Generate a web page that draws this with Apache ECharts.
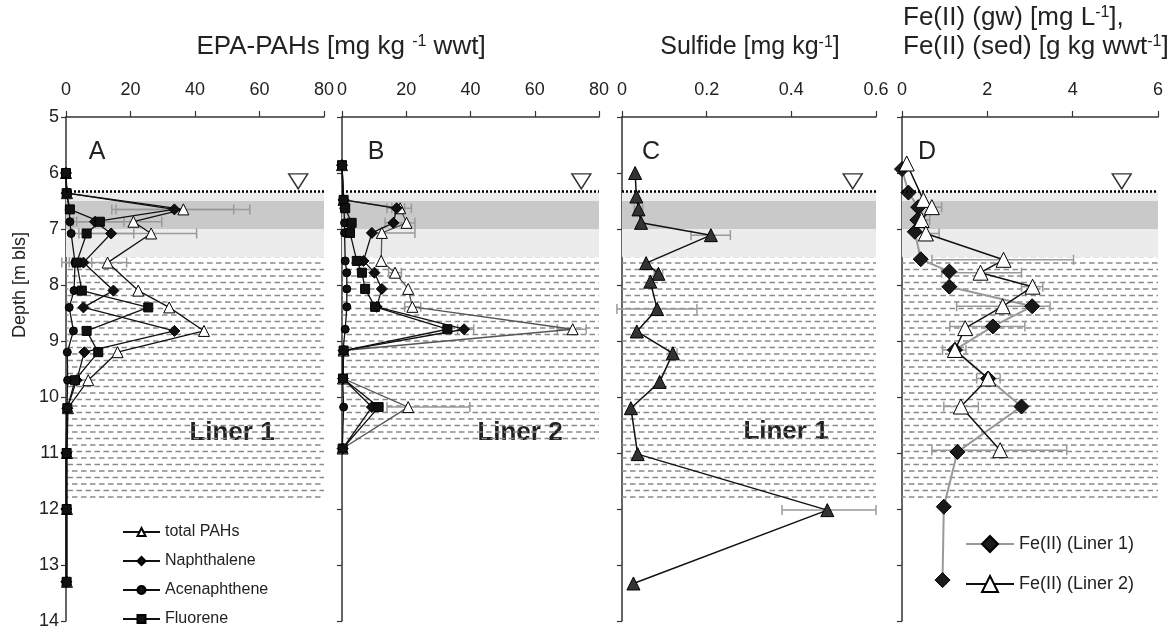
<!DOCTYPE html>
<html>
<head>
<meta charset="utf-8">
<title>Depth profiles</title>
<script src="https://cdn.jsdelivr.net/npm/echarts@6/dist/echarts.min.js"></script>
<style>
  html, body { margin: 0; padding: 0; background: #fff; }
  #main { width: 1175px; height: 633px; }
</style>
</head>
<body>
<div id="main"></div>
<script>
// ---- data (depth in m bls) ----
var waterTable = 6.33;
var wtDepth = 6.15;
var wtX = [72, 74.5, 0.545, 5.15];
var lightBand = [6.33, 7.5];
var darkBand = [6.5, 7.0];
var liner1Zone = [7.5, 11.87];
var liner2Zone = [7.5, 10.8];

// A: Liner 1, EPA-PAHs [mg/kg wwt]
var depthA = [6.0, 6.36, 6.65, 6.87, 7.08, 7.6, 8.1, 8.4, 8.82, 9.2, 9.7, 10.2, 11.0, 12.0, 13.3];
var totalA = [0, 0.3, 36.4, 20.9, 26.4, 12.9, 22.4, 32.0, 42.8, 16.0, 6.9, 0.6, 0.3, 0.3, 0.3];
var naphA  = [0, 0.2, 33.6, 9.0, 14.0, 5.4, 14.7, 5.4, 33.6, 5.7, 3.3, 0.4, 0.1, 0.1, 0.1];
var acenA  = [0, 0.2, 1.0, 1.2, 1.6, 2.8, 2.5, 1.0, 2.3, 0.4, 0.5, 0.3, 0, 0, 0];
var fluoA  = [0, 0.2, 1.2, 10.5, 6.4, 3.3, 4.9, 25.5, 6.4, 10.0, 2.8, 0.4, 0.2, 0.2, 0.2];
// error bars [depth, low, high]
var errA = [[6.65, 14.2, 57], [6.65, 15.5, 52], [6.87, 3.3, 29.7], [6.87, 2.3, 18],
            [7.08, 1.8, 40.5], [7.08, 4, 21], [7.6, -1.3, 18.8], [7.6, 1, 8]];

// B: Liner 2, EPA-PAHs [mg/kg wwt]
var depthB = [5.86, 6.48, 6.63, 6.89, 7.07, 7.57, 7.78, 8.07, 8.39, 8.79, 9.17, 9.67, 10.18, 10.92];
var totalB = [0, 0.5, 18.1, 20.1, 12.4, 12.2, 16.5, 20.6, 21.9, 71.8, 0.5, 0.3, 20.6, 0.2];
var naphB  = [0, 0.5, 17.0, 16.0, 9.3, 6.7, 10.1, 12.4, 10.8, 38.0, 0.5, 0.3, 9.3, 0.2];
var acenB  = [0, 0.3, 0.6, 0.8, 0.8, 1.0, 1.5, 1.5, 1.5, 1.0, 0.3, 0.2, 0.5, 0.1];
var fluoB  = [0, 0.5, 1.0, 3.0, 2.5, 4.6, 6.2, 7.2, 10.3, 32.8, 0.5, 0.3, 11.4, 0.2];
var errB = [[6.63, 14, 21.6], [6.63, 15.5, 19.5], [6.89, 13.4, 22.7], [7.07, 9.2, 22.7],
            [7.78, 14.5, 18.5], [8.39, 19.5, 24.5], [8.79, 67, 76], [8.79, 36, 41], [10.18, 14, 39.8]];

// C: Liner 1, sulfide [mg/kg]
var depthC = [6.0, 6.42, 6.65, 6.89, 7.11, 7.61, 7.8, 7.94, 8.43, 8.83, 9.22, 9.73, 10.2, 11.02, 12.02, 13.33];
var sulfC  = [0.031, 0.034, 0.039, 0.045, 0.21, 0.057, 0.086, 0.067, 0.083, 0.035, 0.12, 0.089, 0.021, 0.037, 0.485, 0.027];
var errC = [[6.65, 0.029, 0.049], [7.11, 0.163, 0.256], [7.8, 0.076, 0.096],
            [8.43, -0.012, 0.177], [9.22, 0.11, 0.13], [12.02, 0.378, 0.6]];

// D: Fe(II)
var depthD1 = [5.93, 6.35, 6.61, 6.84, 7.05, 7.54, 7.76, 8.03, 8.38, 8.74, 9.16, 9.67, 10.17, 10.98, 11.96, 13.27];
var fe1     = [0, 0.15, 0.38, 0.36, 0.30, 0.44, 1.11, 1.11, 3.05, 2.13, 1.24, 2.02, 2.8, 1.30, 0.98, 0.95];
var depthD2 = [5.83, 6.48, 6.61, 6.84, 7.08, 7.55, 7.78, 8.03, 8.38, 8.77, 9.16, 9.67, 10.17, 10.95];
var fe2     = [0.11, 0.5, 0.70, 0.46, 0.56, 2.38, 1.84, 3.06, 2.36, 1.48, 1.24, 2.02, 1.38, 2.30];
var errD = [[6.61, 0.47, 0.93], [6.84, 0.3, 0.65], [7.08, 0.3, 0.87], [7.55, 0.70, 4.02],
            [7.78, 0.93, 2.8], [8.03, 2.8, 3.3], [8.38, 1.28, 3.47], [8.74, 1.12, 2.88],
            [9.16, 0.95, 1.5], [9.67, 1.75, 2.3], [10.17, 0.98, 1.79], [10.95, 0.70, 3.86]];

var xMax = [80, 80, 0.6, 6];
var xStep = [20, 20, 0.2, 2];

// ---- chart ----
var font = "'Liberation Sans', Arial, sans-serif";
var chart = echarts.init(document.getElementById('main'));

function pairs(xs, ds) {
  return ds.map(function (d, i) { return [xs[i], d]; });
}

// dashed "sediment" fill
function dashPattern() {
  var c = document.createElement('canvas');
  c.width = 9; c.height = 13;
  var g = c.getContext('2d');
  g.strokeStyle = '#8a8a8a';
  g.lineWidth = 1.7;
  g.beginPath();
  g.moveTo(0, 3); g.lineTo(5.5, 3);
  g.moveTo(4.5, 9.5); g.lineTo(9, 9.5);
  g.moveTo(0, 9.5); g.lineTo(1, 9.5);
  g.stroke();
  return c;
}
var pat = { image: dashPattern(), repeat: 'repeat' };

function lineSeries(name, idx, data, sym, size, fill, lineColor, lw) {
  return {
    name: name, type: 'line', xAxisIndex: idx, yAxisIndex: idx, z: 3,
    data: data, clip: false, animation: false,
    symbol: sym, symbolSize: size,
    itemStyle: { color: fill, borderColor: '#000', borderWidth: 1 },
    lineStyle: { color: lineColor, width: lw || 1.3 },
    emphasis: { disabled: true }
  };
}

function errSeries(idx, rows) {
  return {
    type: 'custom', xAxisIndex: idx, yAxisIndex: idx, z: 2, silent: true, animation: false,
    data: rows.map(function (r) { return [r[1], r[2], r[0]]; }),
    encode: { x: [0, 1], y: 2 },
    renderItem: function (params, api) {
      var a = api.coord([api.value(0), api.value(2)]);
      var b = api.coord([api.value(1), api.value(2)]);
      var st = { stroke: '#9a9a9a', lineWidth: 1.5 };
      return {
        type: 'group', children: [
          { type: 'line', shape: { x1: a[0], y1: a[1], x2: b[0], y2: b[1] }, style: st },
          { type: 'line', shape: { x1: a[0], y1: a[1] - 5, x2: a[0], y2: a[1] + 5 }, style: st },
          { type: 'line', shape: { x1: b[0], y1: b[1] - 5, x2: b[0], y2: b[1] + 5 }, style: st }
        ]
      };
    }
  };
}

function zoneSeries(idx, zone) {
  return {
    type: 'scatter', xAxisIndex: idx, yAxisIndex: idx, z: 1, silent: true, animation: false,
    symbol: 'triangle', symbolRotate: 180, symbolSize: [19, 15],
    itemStyle: { color: '#fff', borderColor: '#000', borderWidth: 1.4 },
    data: [[wtX[idx], wtDepth]],
    markArea: {
      silent: true,
      data: [
        [{ yAxis: lightBand[0], itemStyle: { color: '#ececec' } }, { yAxis: lightBand[1] }],
        [{ yAxis: darkBand[0], itemStyle: { color: '#c9c9c9' } }, { yAxis: darkBand[1] }],
        [{ yAxis: zone[0], itemStyle: { color: pat } }, { yAxis: zone[1] }]
      ]
    },
    markLine: {
      silent: true, symbol: 'none', label: { show: false },
      lineStyle: { color: '#000', type: [2, 2], width: 2.5 },
      data: [{ yAxis: waterTable }]
    }
  };
}

var lefts = [66, 342, 622, 902];
var widths = [258, 257, 254, 256];
var grids = [], xAxes = [], yAxes = [];
for (var i = 0; i < 4; i++) {
  grids.push({ left: lefts[i], top: 117, width: widths[i], height: 504 });
  xAxes.push({
    gridIndex: i, type: 'value', position: 'top', min: 0, max: xMax[i], interval: xStep[i],
    axisLine: { lineStyle: { color: '#333', width: 1.5 } },
    axisTick: { inside: false, length: 6, lineStyle: { color: '#333', width: 1.2 } },
    axisLabel: { fontSize: 18, color: '#222', fontFamily: font, margin: 18 },
    splitLine: { show: false }
  });
  yAxes.push({
    gridIndex: i, type: 'value', inverse: true, min: 5, max: 14, interval: 1,
    axisLine: { onZero: false, lineStyle: { color: '#333', width: 1.5 } },
    axisTick: { inside: false, length: 5, lineStyle: { color: '#333', width: 1.2 } },
    axisLabel: { show: i === 0, fontSize: 18, color: '#222', fontFamily: font, margin: 7 },
    splitLine: { show: false }
  });
}

var series = [
  zoneSeries(0, liner1Zone), zoneSeries(1, liner2Zone), zoneSeries(2, liner1Zone), zoneSeries(3, liner1Zone),
  errSeries(0, errA), errSeries(1, errB), errSeries(2, errC), errSeries(3, errD),
  lineSeries('total PAHs', 0, pairs(totalA, depthA), 'triangle', 11, '#fff', '#111'),
  lineSeries('Naphthalene', 0, pairs(naphA, depthA), 'diamond', 11, '#111', '#111'),
  lineSeries('Acenaphthene', 0, pairs(acenA, depthA), 'circle', 8, '#111', '#111'),
  lineSeries('Fluorene', 0, pairs(fluoA, depthA), 'rect', 9, '#111', '#111'),
  lineSeries('total PAHs', 1, pairs(totalB, depthB), 'triangle', 11, '#fff', '#555'),
  lineSeries('Naphthalene', 1, pairs(naphB, depthB), 'diamond', 11, '#111', '#111'),
  lineSeries('Acenaphthene', 1, pairs(acenB, depthB), 'circle', 8, '#111', '#111'),
  lineSeries('Fluorene', 1, pairs(fluoB, depthB), 'rect', 9, '#111', '#111'),
  lineSeries('Sulfide', 2, pairs(sulfC, depthC), 'triangle', 13, '#333', '#111', 1.5),
  lineSeries('Fe(II) (Liner 1)', 3, pairs(fe1, depthD1), 'diamond', 15, '#1a1a1a', '#999', 2),
  lineSeries('Fe(II) (Liner 2)', 3, pairs(fe2, depthD2), 'triangle', 15, '#fff', '#111', 1.5)
];

function txt(x, y, text, size, extra) {
  var st = { text: text, fontSize: size, fontFamily: font, fill: '#222',
             textAlign: 'center', textVerticalAlign: 'middle',
             rich: { s: { fontSize: Math.round(size * 0.62), fontFamily: font, verticalAlign: 'top', fill: '#222' } } };
  for (var k in extra || {}) st[k] = extra[k];
  return { type: 'text', x: x, y: y, style: st, silent: true };
}

var graphics = [
  txt(341, 47, 'EPA-PAHs [mg kg {s|-1} wwt]', 26),
  txt(750, 47, 'Sulfide [mg kg{s|-1}]', 25),
  txt(903, 18, 'Fe(II) (gw) [mg L{s|-1}],', 26, { textAlign: 'left' }),
  txt(903, 47, 'Fe(II) (sed) [g kg wwt{s|-1}]', 26, { textAlign: 'left' }),
  { type: 'text', x: 20, y: 285, rotation: Math.PI / 2, silent: true,
    style: { text: 'Depth [m bls]', fontSize: 18, fontFamily: font, fill: '#222',
             textAlign: 'center', textVerticalAlign: 'middle' } },
  txt(97, 152, 'A', 25), txt(376, 152, 'B', 25), txt(651, 152, 'C', 25), txt(927, 152, 'D', 25),
  txt(232, 433, 'Liner 1', 26, { fontWeight: 'bold' }),
  txt(520, 433, 'Liner 2', 26, { fontWeight: 'bold' }),
  txt(786, 432, 'Liner 1', 26, { fontWeight: 'bold' })
];

chart.setOption({
  animation: false,
  backgroundColor: '#fff',
  grid: grids,
  xAxis: xAxes,
  yAxis: yAxes,
  legend: [
    { left: 117, top: 519, orient: 'vertical', itemGap: 13, itemWidth: 37, itemHeight: 10,
      textStyle: { fontSize: 16, color: '#222', fontFamily: font },
      data: ['total PAHs', 'Naphthalene', 'Acenaphthene', 'Fluorene'] },
    { left: 960, top: 530, orient: 'vertical', itemGap: 22, itemWidth: 48, itemHeight: 20,
      textStyle: { fontSize: 18, color: '#222', fontFamily: font },
      data: ['Fe(II) (Liner 1)', 'Fe(II) (Liner 2)'] }
  ],
  graphic: graphics,
  series: series
});
</script>
</body>
</html>
